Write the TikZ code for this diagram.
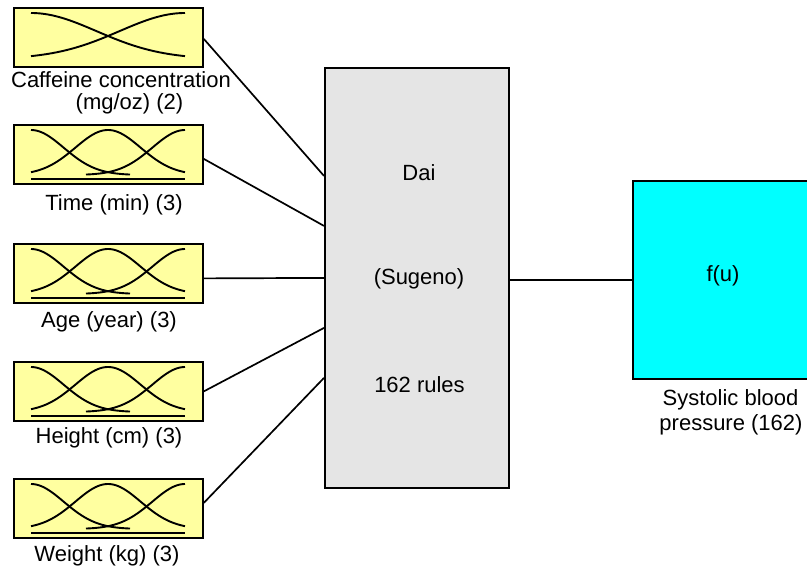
\documentclass[tikz,border=0pt]{standalone}
\usepackage{fontspec}
\setmainfont{Liberation Sans}
\definecolor{mfyellow}{RGB}{255,255,160}
\definecolor{fisgray}{RGB}{229,229,229}
\definecolor{outcyan}{RGB}{0,255,255}
\newcommand\mfThree[1]{%
  \draw[mfc] plot[domain=31:130,samples=50] (\x,{#1+6+45*(1-exp(-0.5*pow((\x-31)/32.7,2)))});
  \draw[mfc] plot[domain=31:185,samples=70] (\x,{#1+6+45*(1-exp(-0.5*pow((\x-108)/32.7,2)))});
  \draw[mfc] plot[domain=86:185,samples=50] (\x,{#1+6+45*(1-exp(-0.5*pow((\x-185)/32.7,2)))});
  \draw[mfc] (31,#1+55) -- (185,#1+55);}
\begin{document}
\begin{tikzpicture}[x=1pt,y=-1pt,
  inbox/.style={draw, line width=1.8pt, fill=mfyellow, minimum width=189pt, minimum height=59pt, anchor=north west, inner sep=0pt},
  fisbox/.style={draw, line width=1.8pt, fill=fisgray, minimum width=184pt, minimum height=420pt, anchor=north west, inner sep=0pt},
  outbox/.style={draw, line width=1.8pt, fill=outcyan, minimum width=190pt, minimum height=198pt, anchor=north west, inner sep=0pt},
  txt/.style={font=\fontsize{22}{25}\selectfont, anchor=base, inner sep=0pt},
  conn/.style={line width=1.7pt},
  mfc/.style={line width=1.9pt}]
\useasboundingbox (0,0) rectangle (807,567);
\clip (0,0) rectangle (807,567);
% input boxes
\node[inbox] (in1) at (13,7) {};
\node[inbox] (in2) at (13,124) {};
\node[inbox] (in3) at (13,243) {};
\node[inbox] (in4) at (13,361) {};
\node[inbox] (in5) at (13,478) {};
% membership functions
\draw[mfc] plot[domain=31:185,samples=70] (\x,{13+46*(1-exp(-0.5*pow((\x-31)/65.4,2)))});
\draw[mfc] plot[domain=31:185,samples=70] (\x,{13+46*(1-exp(-0.5*pow((\x-185)/65.4,2)))});
\mfThree{124}
\mfThree{243}
\mfThree{361}
\mfThree{478}
% FIS and output
\node[fisbox] (dai) at (324,67) {};
\node[outbox] (out) at (632,180) {};
% connectors
\draw[conn] ([yshift=-1.5pt]in1.east) -- ([yshift=102pt]dai.west);
\draw[conn] ([yshift=-4.5pt]in2.east) -- ([yshift=52pt]dai.west);
\draw[conn] ([yshift=-5pt]in3.east) -- (dai.west);
\draw[conn] (in4.east) -- ([yshift=-50pt]dai.west);
\draw[conn] ([yshift=5.5pt]in5.east) -- ([yshift=-100pt]dai.west);
\draw[conn] ([yshift=-2pt]dai.east) -- (out.west);
% texts
\node[txt] (l1a) at (121,87.5) {Caffeine concentration};
\node[txt] (l1b) at (129.5,110) {(mg/oz) (2)};
\node[txt] (l2) at (114,211) {Time (min) (3)};
\node[txt] (l3) at (109,327) {Age (year) (3)};
\node[txt] (l4) at (109,443.5) {Height (cm) (3)};
\node[txt] (l5) at (107,561) {Weight (kg) (3)};
\node[txt] (t1) at (419,181) {Dai};
\node[txt] (t2) at (419,284) {(Sugeno)};
\node[txt] (t3) at (419.5,392) {162 rules};
\node[txt] (fu) at (723,282) {f(u)};
\node[txt] (o1) at (730.5,405.5) {Systolic blood};
\node[txt] (o2) at (731,430) {pressure (162)};
\end{tikzpicture}
\end{document}
